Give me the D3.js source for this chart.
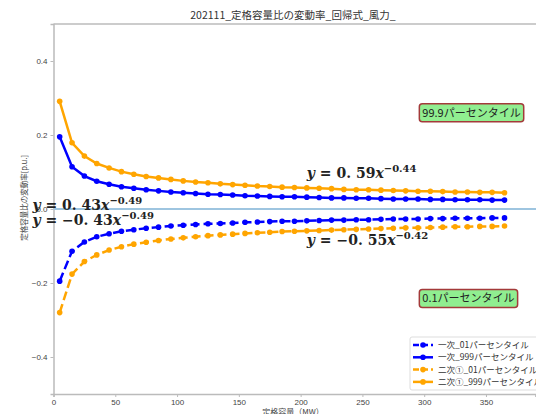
<!DOCTYPE html>
<html>
<head>
<meta charset="utf-8">
<script src="https://cdn.jsdelivr.net/npm/d3@7"></script>
<style>
  body { margin: 0; background: #fff; }
  svg { display: block; font-family: "Noto Sans CJK JP", "Noto Sans", sans-serif; }
  .axis path, .axis line { stroke: #bbb; }
  .axis text { fill: #444; font-size: 8px; }
</style>
</head>
<body>
<div id="chart"></div>
<script>
// capacity (MW)
const capacity = [5, 15, 25, 35, 45, 55, 65, 75, 85, 95, 105, 115, 125, 135, 145, 155, 165, 175, 185,
    195, 205, 215, 225, 235, 245, 255, 265, 275, 285, 295, 305, 315, 325, 335, 345, 355, 365];

// 一次_01パーセンタイル
const primary01 = [-0.195, -0.114, -0.089, -0.075, -0.067, -0.060, -0.056, -0.052, -0.049, -0.046,
    -0.044, -0.042, -0.040, -0.039, -0.038, -0.036, -0.035, -0.034, -0.033, -0.033, -0.032, -0.031,
    -0.030, -0.030, -0.029, -0.029, -0.028, -0.027, -0.027, -0.027, -0.026, -0.026, -0.025, -0.025,
    -0.025, -0.024, -0.024];
// 一次_999パーセンタイル
const primary999 = [0.195, 0.114, 0.089, 0.075, 0.067, 0.060, 0.056, 0.052, 0.049, 0.046,
    0.044, 0.042, 0.040, 0.039, 0.038, 0.036, 0.035, 0.034, 0.033, 0.033, 0.032, 0.031,
    0.030, 0.030, 0.029, 0.029, 0.028, 0.027, 0.027, 0.027, 0.026, 0.026, 0.025, 0.025,
    0.025, 0.024, 0.024];
// 二次①_01パーセンタイル
const secondary01 = [-0.280, -0.176, -0.142, -0.124, -0.111, -0.102, -0.095, -0.090, -0.085, -0.081,
    -0.078, -0.075, -0.072, -0.070, -0.068, -0.066, -0.064, -0.063, -0.061, -0.060, -0.059, -0.058,
    -0.057, -0.056, -0.055, -0.054, -0.053, -0.052, -0.051, -0.051, -0.050, -0.049, -0.048, -0.048,
    -0.047, -0.047, -0.046];
// 二次①_999パーセンタイル
const secondary999 = [0.291, 0.179, 0.143, 0.123, 0.111, 0.101, 0.094, 0.088, 0.084, 0.080,
    0.076, 0.073, 0.071, 0.068, 0.066, 0.064, 0.062, 0.061, 0.059, 0.058, 0.057, 0.056,
    0.055, 0.053, 0.052, 0.052, 0.051, 0.050, 0.049, 0.048, 0.048, 0.047, 0.046, 0.046,
    0.045, 0.045, 0.044];

const xTicks = [0, 50, 100, 150, 200, 250, 300, 350];
const yTicks = [-0.4, -0.2, 0.0, 0.2, 0.4];

const series = [
    {name: "一次_01パーセンタイル", values: primary01, color: "#0000ff", dashed: true},
    {name: "一次_999パーセンタイル", values: primary999, color: "#0000ff", dashed: false},
    {name: "二次①_01パーセンタイル", values: secondary01, color: "#ffa500", dashed: true},
    {name: "二次①_999パーセンタイル", values: secondary999, color: "#ffa500", dashed: false}
];

const formulas = [
    {coef: "0.43", exp: "−0.49", at: [-17, -0.004]},
    {coef: "−0.43", exp: "−0.49", at: [-17, -0.043]},
    {coef: "0.59", exp: "−0.44", at: [205, 0.083]},
    {coef: "−0.55", exp: "−0.42", at: [205, -0.098]}
];

const W = 536, H = 414;
const margin = {top: 24, left: 53.5};

const svg = d3.select("#chart").append("svg")
    .attr("width", W)
    .attr("height", H);

const x = d3.scaleLinear().domain([0, 390]).range([margin.left, 535.4]);
const y = d3.scaleLinear().domain([-0.5, 0.5]).range([394, margin.top]);

// title
svg.append("text")
    .attr("x", 293).attr("y", 19)
    .attr("text-anchor", "middle")
    .attr("font-size", 10.5)
    .attr("fill", "#333")
    .text("202111_定格容量比の変動率_回帰式_風力_");

// axes
svg.append("g")
    .attr("class", "axis")
    .attr("transform", `translate(0,${y(-0.5)})`)
    .call(d3.axisBottom(x).tickValues(xTicks).tickSize(3).tickPadding(2).tickFormat(d3.format("d")))
    .call(g => g.select(".domain").attr("stroke-width", 1.5));

svg.append("g")
    .attr("class", "axis")
    .attr("transform", `translate(${margin.left},0)`)
    .call(d3.axisLeft(y).tickValues(yTicks).tickSize(3).tickPadding(3).tickFormat(d3.format(".1f")))
    .call(g => g.select(".domain").attr("stroke-width", 1.5));

// top spine
svg.append("line")
    .attr("x1", margin.left).attr("x2", W)
    .attr("y1", y(0.5)).attr("y2", y(0.5))
    .attr("stroke", "#bbb").attr("stroke-width", 1.5);

// axis labels
svg.append("text")
    .attr("x", 293).attr("y", 415)
    .attr("text-anchor", "middle")
    .attr("font-size", 8)
    .attr("fill", "#444")
    .text("定格容量（MW）");

svg.append("text")
    .attr("transform", `translate(27,${y(0.03)}) rotate(-90)`)
    .attr("text-anchor", "middle")
    .attr("font-size", 7.5)
    .attr("fill", "#444")
    .text("定格容量比の変動率[p.u.]");

// zero line
svg.append("line")
    .attr("x1", margin.left).attr("x2", W)
    .attr("y1", y(0)).attr("y2", y(0))
    .attr("stroke", "#9ec5e0").attr("stroke-width", 1.8);

// series lines
const line = d3.line()
    .x(d => x(d[0]))
    .y(d => y(d[1]));

series.forEach(s => {
    const pts = capacity.map((c, i) => [c, s.values[i]]);
    const g = svg.append("g");
    g.append("path")
        .datum(pts)
        .attr("d", line)
        .attr("fill", "none")
        .attr("stroke", s.color)
        .attr("stroke-width", 2.5)
        .attr("stroke-dasharray", s.dashed ? "9,4" : null);
    g.selectAll("circle")
        .data(pts)
        .join("circle")
        .attr("cx", d => x(d[0]))
        .attr("cy", d => y(d[1]))
        .attr("r", 2.8)
        .attr("fill", s.color);
});

// regression formulas
formulas.forEach(f => {
    const t = svg.append("text")
        .attr("x", x(f.at[0])).attr("y", y(f.at[1]))
        .attr("font-family", "DejaVu Serif")
        .attr("font-weight", "bold")
        .attr("font-size", 14)
        .attr("fill", "#222");
    t.append("tspan").attr("font-style", "italic").text("y");
    t.append("tspan").text(" = " + f.coef.replace(".", ". "));
    t.append("tspan").attr("font-style", "italic").text("x");
    t.append("tspan").attr("dy", -6).attr("font-size", 10).text(f.exp);
});

// percentile boxes
function labelBox(text, cx, cy) {
    const g = svg.append("g");
    const t = g.append("text")
        .attr("x", x(cx)).attr("y", y(cy))
        .attr("dy", "0.35em")
        .attr("font-size", 11)
        .attr("fill", "#222")
        .text(text);
    const b = t.node().getBBox();
    g.insert("rect", "text")
        .attr("x", b.x - 3).attr("y", y(cy) - 9)
        .attr("width", b.width + 6).attr("height", 18)
        .attr("rx", 3)
        .attr("fill", "#90ee90")
        .attr("stroke", "#a33a3a")
        .attr("stroke-width", 1.5);
}
labelBox("99.9パーセンタイル", 298.5, 0.26);
labelBox("0.1パーセンタイル", 298.5, -0.242);

// legend
const legend = svg.append("g").attr("transform", "translate(410,337)");
legend.append("rect")
    .attr("width", 140).attr("height", 53)
    .attr("rx", 2)
    .attr("fill", "#fff").attr("fill-opacity", 0.8)
    .attr("stroke", "#ddd");

series.forEach((s, i) => {
    const row = legend.append("g").attr("transform", `translate(0,${8 + i * 12.3})`);
    row.append("line")
        .attr("x1", 3).attr("x2", 23)
        .attr("stroke", s.color)
        .attr("stroke-width", 2.5)
        .attr("stroke-dasharray", s.dashed ? "6,3" : null);
    row.append("circle").attr("cx", 13).attr("r", 2.8).attr("fill", s.color);
    row.append("text")
        .attr("x", 28).attr("dy", "0.35em")
        .attr("font-size", 8.5)
        .attr("fill", "#333")
        .text(s.name);
});
</script>
</body>
</html>
